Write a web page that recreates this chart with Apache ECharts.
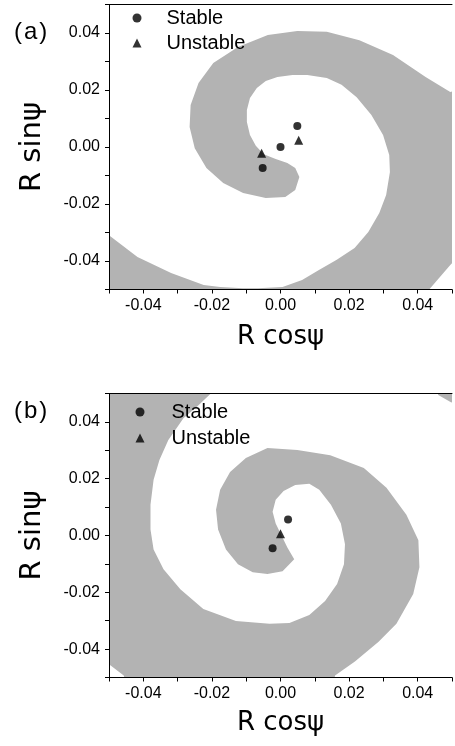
<!DOCTYPE html>
<html>
<head>
<meta charset="utf-8">
<script src="https://cdn.jsdelivr.net/npm/echarts@6/dist/echarts.min.js"></script>
<style>
  html, body { margin: 0; padding: 0; background: #fff; }
  #chart { width: 455px; height: 746px; }
</style>
</head>
<body>
<div id="chart"></div>
<script>
// basin of attraction outlines as [R cos psi, R sin psi]
// (points just outside +-0.05 get clipped away by the grid)
const basinA = [
  [0.0055, -0.0105], [0.0043, -0.0074], [0.0020, -0.0056], [-0.0014, -0.0042], [-0.0049, -0.0025],
  [-0.0072, 0.0004], [-0.0089, 0.0042], [-0.0098, 0.0088], [-0.0098, 0.0130], [-0.0089, 0.0172],
  [-0.0069, 0.0207], [-0.0043, 0.0232], [-0.0009, 0.0246], [0.0035, 0.0253], [0.0078, 0.0253],
  [0.0135, 0.0242], [0.0178, 0.0218], [0.0222, 0.0175], [0.0265, 0.0112], [0.0299, 0.0042],
  [0.0317, -0.0028], [0.0319, -0.0088], [0.0308, -0.0168], [0.0288, -0.0232], [0.0256, -0.0298],
  [0.0216, -0.0354], [0.0164, -0.0396], [0.0112, -0.0432], [0.0063, -0.0467], [0.0006, -0.0491],
  [-0.0066, -0.0496], [-0.0109, -0.0496], [-0.0176, -0.0491], [-0.0224, -0.0484], [-0.0319, -0.0442],
  [-0.0417, -0.0386], [-0.0501, -0.0309], [-0.0555, -0.0270], [-0.0560, -0.0560], [0.0480, -0.0560],
  [0.0432, -0.0502], [0.0495, -0.0414], [0.0560, -0.0340], [0.0560, 0.0220], [0.0495, 0.0193],
  [0.0423, 0.0246], [0.0328, 0.0323], [0.0230, 0.0375], [0.0135, 0.0404], [0.0049, 0.0407],
  [-0.0037, 0.0393], [-0.0124, 0.0351], [-0.0196, 0.0295], [-0.0239, 0.0225], [-0.0262, 0.0147],
  [-0.0265, 0.0070], [-0.0250, -0.0004], [-0.0216, -0.0074], [-0.0167, -0.0126], [-0.0109, -0.0161],
  [-0.0043, -0.0179], [0.0014, -0.0175], [0.0043, -0.0151]
]
const basinB = [
  [0.0040, -0.0084], [0.0020, -0.0042], [0.0003, 0.0000], [-0.0014, 0.0042], [-0.0023, 0.0084],
  [-0.0014, 0.0126], [0.0009, 0.0157], [0.0043, 0.0178], [0.0084, 0.0182], [0.0113, 0.0161],
  [0.0147, 0.0108], [0.0176, 0.0042], [0.0188, -0.0031], [0.0185, -0.0101], [0.0165, -0.0171],
  [0.0130, -0.0231], [0.0084, -0.0280], [0.0026, -0.0308], [-0.0032, -0.0311], [-0.0130, -0.0301],
  [-0.0225, -0.0259], [-0.0292, -0.0189], [-0.0341, -0.0119], [-0.0370, -0.0049], [-0.0379, 0.0021],
  [-0.0379, 0.0108], [-0.0370, 0.0196], [-0.0353, 0.0266], [-0.0327, 0.0336], [-0.0283, 0.0413],
  [-0.0240, 0.0458], [-0.0197, 0.0507], [-0.0168, 0.0560], [-0.0570, 0.0560], [-0.0570, -0.0420],
  [-0.0503, -0.0451], [-0.0457, -0.0493], [-0.0442, -0.0560], [0.0150, -0.0560], [0.0159, -0.0493],
  [0.0217, -0.0444], [0.0286, -0.0374], [0.0338, -0.0311], [0.0387, -0.0206], [0.0405, -0.0112],
  [0.0402, -0.0017], [0.0367, 0.0073], [0.0309, 0.0168], [0.0243, 0.0238], [0.0145, 0.0283],
  [0.0049, 0.0301], [-0.0038, 0.0308], [-0.0101, 0.0273], [-0.0147, 0.0224], [-0.0176, 0.0161],
  [-0.0188, 0.0091], [-0.0182, 0.0021], [-0.0159, -0.0049], [-0.0124, -0.0101], [-0.0081, -0.0129],
  [-0.0038, -0.0136], [0.0006, -0.0126]
]
const basinBCorner = [[0.0440, 0.0560], [0.0570, 0.0560], [0.0570, 0.0460], [0.0497, 0.0469], [0.0460, 0.0495]]

const stableA = [[0, 0], [0.0049, 0.0074], [-0.0052, -0.0074]]
const unstableA = [[0.0053, 0.0024], [-0.0055, -0.0022]]
const stableB = [[0.0022, 0.0056], [-0.0023, -0.0045]]
const unstableB = [[0, 0.0006]]

const tickLabels = ['-0.04', '-0.02', '0.00', '0.02', '0.04']

const font = 'Liberation Sans'
const gray = '#b3b3b3'

function basinSeries(points, idx) {
  return {
    type: 'custom',
    xAxisIndex: idx * 2,
    yAxisIndex: idx,
    clip: true,
    silent: true,
    z: 1,
    data: points,
    renderItem: function (params, api) {
      if (params.dataIndex !== 0) return null
      return {
        type: 'polygon',
        shape: { points: points.map((p) => api.coord(p)) },
        style: { fill: gray, stroke: null }
      }
    }
  }
}

function pointSeries(name, symbol, size, data, idx) {
  return {
    name: name,
    type: 'scatter',
    xAxisIndex: idx * 2,
    yAxisIndex: idx,
    symbol: symbol,
    symbolSize: size,
    itemStyle: { color: '#000' },
    z: 3,
    data: data
  }
}

function labelFmt(v) {
  const s = (Math.round(v * 100) / 100).toFixed(2)
  const t = s === '-0.00' ? '0.00' : s
  return tickLabels.indexOf(t) >= 0 ? t : ''
}

function bottomAxis(gridIndex, gap) {
  return {
    type: 'value', gridIndex: gridIndex, position: 'bottom',
    min: -0.05, max: 0.05, interval: 0.01, z: 5,
    axisLine: { show: true, onZero: false, lineStyle: { color: '#000', width: 1 } },
    axisTick: { show: true, inside: false, length: 4, lineStyle: { color: '#000' } },
    axisLabel: { color: '#000', fontFamily: font, fontSize: 16, margin: 8, formatter: labelFmt },
    splitLine: { show: false },
    name: 'R cos\u03c8', nameLocation: 'middle', nameGap: gap,
    nameTextStyle: { color: '#000', fontFamily: 'DejaVu Sans', fontSize: 26 }
  }
}

function topAxis(gridIndex) {
  return {
    type: 'value', gridIndex: gridIndex, position: 'top',
    min: -0.05, max: 0.05, z: 5,
    axisLine: { show: true, onZero: false, lineStyle: { color: '#000', width: 1 } },
    axisTick: { show: false },
    axisLabel: { show: false },
    splitLine: { show: false }
  }
}

function leftAxis(gridIndex) {
  return {
    type: 'value', gridIndex: gridIndex,
    min: -0.05, max: 0.05, interval: 0.01, z: 5,
    axisLine: { show: true, onZero: false, lineStyle: { color: '#000', width: 1 } },
    axisTick: { show: true, inside: false, length: 4, lineStyle: { color: '#000' } },
    axisLabel: { color: '#000', fontFamily: font, fontSize: 16, margin: 9, formatter: labelFmt },
    splitLine: { show: false },
    name: 'R sin\u03c8', nameLocation: 'middle', nameGap: 62, nameRotate: 90,
    nameTextStyle: { color: '#000', fontFamily: 'DejaVu Sans', fontSize: 29 }
  }
}

function legendAt(left, top, gap, pad) {
  return {
    left: left, top: top, orient: 'vertical', padding: 0,
    itemWidth: 9, itemHeight: 9, itemGap: gap,
    data: [{ name: 'Stable', icon: 'circle' }, { name: 'Unstable', icon: 'triangle' }],
    textStyle: { color: '#000', fontFamily: font, fontSize: 20, lineHeight: 20, padding: [0, 0, 0, pad] },
    selectedMode: false
  }
}

const chart = echarts.init(document.getElementById('chart'), null, { renderer: 'canvas' })
chart.setOption({
  animation: false,
  backgroundColor: '#fff',
  grid: [
    { left: 109, top: 4.5, width: 348, height: 285 },
    { left: 109, top: 393.5, width: 348, height: 284 }
  ],
  xAxis: [bottomAxis(0, 35), topAxis(0), bottomAxis(1, 33), topAxis(1)],
  yAxis: [leftAxis(0), leftAxis(1)],
  legend: [legendAt(132.5, 8, 5, 20), legendAt(135.5, 402, 6, 22)],
  graphic: [
    { type: 'text', left: 14, top: 20, style: { text: '(\u200aa\u200a)', font: '24px "Liberation Sans"', fill: '#000' } },
    { type: 'text', left: 14, top: 399, style: { text: '(\u200ab\u200a)', font: '24px "Liberation Sans"', fill: '#000' } }
  ],
  series: [
    basinSeries(basinA, 0),
    basinSeries(basinB, 1),
    basinSeries(basinBCorner, 1),
    pointSeries('Stable', 'circle', 8, stableA, 0),
    pointSeries('Unstable', 'triangle', 9, unstableA, 0),
    pointSeries('Stable', 'circle', 8, stableB, 1),
    pointSeries('Unstable', 'triangle', 9, unstableB, 1)
  ]
})
</script>
</body>
</html>
